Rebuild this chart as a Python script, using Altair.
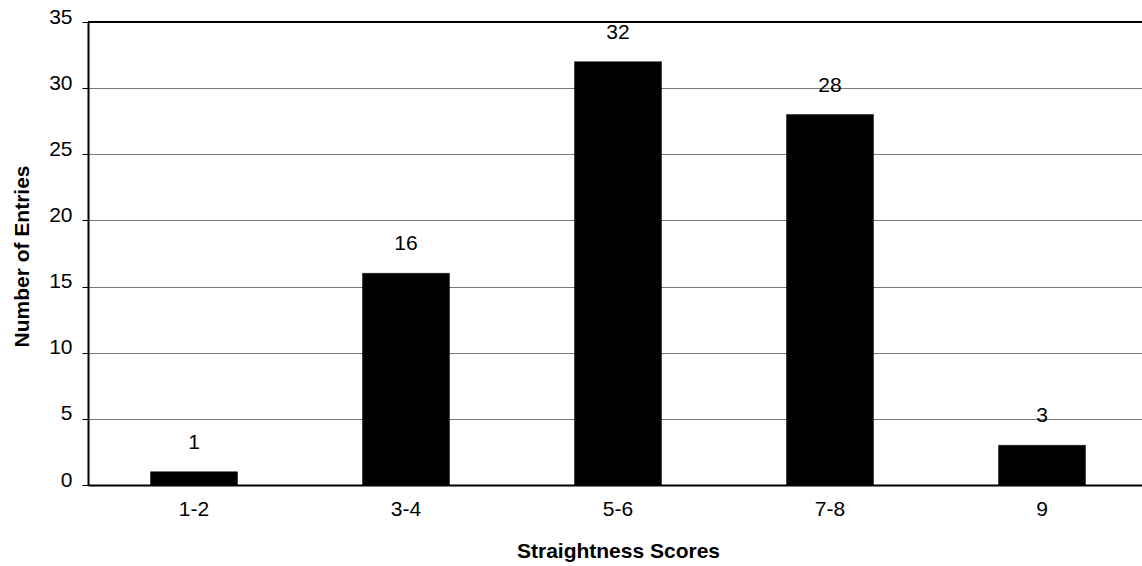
import altair as alt
import pandas as pd

# Straightness score bins and the number of entries in each
scores = ["1-2", "3-4", "5-6", "7-8", "9"]
entries = [1, 16, 32, 28, 3]
y_ticks = [0, 5, 10, 15, 20, 25, 30, 35]

df = pd.DataFrame({"score": scores, "entries": entries})

FONT = "Liberation Sans"
LABEL_SIZE = 21
TITLE_SIZE = 21

x_enc = alt.X(
    "score:N",
    sort=scores,
    scale=alt.Scale(range=[0, 1060], paddingInner=0.59, paddingOuter=0.295),
    axis=alt.Axis(
        title="Straightness Scores",
        titleFont=FONT,
        titleFontSize=TITLE_SIZE,
        titleFontWeight="bold",
        titleColor="black",
        titleBaseline="alphabetic",
        titleX=530,
        titleY=72,
        labelAngle=0,
        labelFont=FONT,
        labelFontSize=LABEL_SIZE,
        labelColor="black",
        labelPadding=13,
        ticks=False,
        domainColor="black",
        domainWidth=2,
        grid=False,
    ),
)

y_scale = alt.Scale(domain=[0, 35], nice=False)

bars = alt.Chart(df).mark_bar(color="black", stroke="black", strokeWidth=0.5).encode(
    x=x_enc,
    y=alt.Y(
        "entries:Q",
        scale=y_scale,
        axis=alt.Axis(
            title="Number of Entries",
            titleFont=FONT,
            titleFontSize=TITLE_SIZE,
            titleFontWeight="bold",
            titleColor="black",
            titleBaseline="alphabetic",
            titleAlign="center",
            titleAngle=-90,
            titleX=-60,
            titleY=234,
            values=y_ticks,
            labelFont=FONT,
            labelFontSize=LABEL_SIZE,
            labelColor="black",
            labelOffset=-5,
            labelPadding=10,
            tickSize=6,
            tickColor="black",
            tickWidth=1,
            domainColor="black",
            domainWidth=2,
            grid=True,
            gridColor="#7a7a7a",
            gridWidth=1,
        ),
    ),
)

labels = alt.Chart(df).mark_text(
    font=FONT, fontSize=LABEL_SIZE, color="black", baseline="alphabetic", dy=-23
).encode(
    x=alt.X("score:N", sort=scores),
    y=alt.Y("entries:Q", scale=y_scale),
    text=alt.Text("entries:Q"),
)

# heavy frame line along the top of the plot
top_line = alt.Chart(pd.DataFrame({"top": [35]})).mark_rule(
    color="black", strokeWidth=2
).encode(y=alt.Y("top:Q", scale=y_scale))

chart = (
    alt.layer(bars, labels, top_line)
    .properties(
        width=1054,
        height=463,
        autosize=alt.AutoSizeParams(type="none"),
        padding={"left": 88, "top": 22, "right": 0, "bottom": 81},
        background="white",
    )
    .configure_view(stroke=None)
)

chart.save("out.html", embed_options={"renderer": "svg", "actions": False})
